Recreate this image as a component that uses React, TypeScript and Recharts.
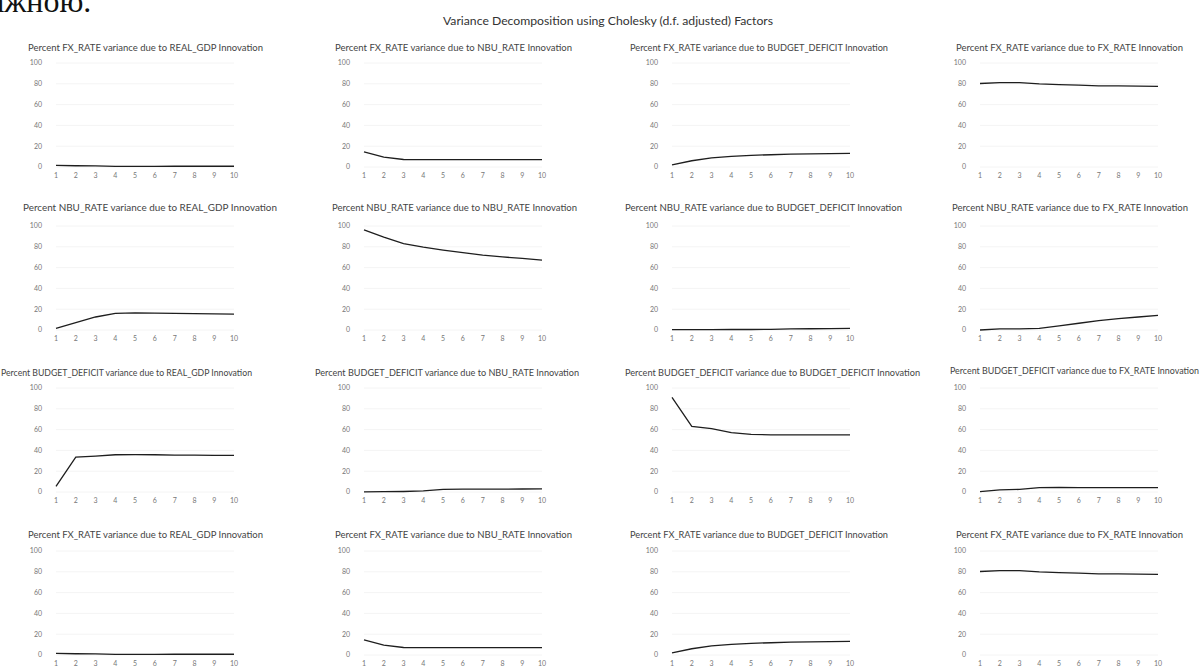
import React from 'react';
import { LineChart, Line, XAxis, YAxis, CartesianGrid } from 'recharts';

// ---------- data ----------
const periods = [1, 2, 3, 4, 5, 6, 7, 8, 9, 10];
const yTicks = [0, 20, 40, 60, 80, 100];

const responseVars = ['FX_RATE', 'NBU_RATE', 'BUDGET_DEFICIT', 'FX_RATE'];
const shockVars = ['REAL_GDP', 'NBU_RATE', 'BUDGET_DEFICIT', 'FX_RATE'];

const fxDueGdp = [1.5, 1.2, 1.0, 0.6, 0.6, 0.6, 0.7, 0.7, 0.7, 0.7];
const fxDueNbu = [14.5, 9.5, 7.2, 7.0, 7.0, 7.0, 7.0, 7.0, 7.0, 7.0];
const fxDueBudget = [2.0, 6.0, 8.8, 10.3, 11.2, 11.8, 12.3, 12.6, 12.9, 13.1];
const fxDueFx = [80.3, 81.2, 81.2, 80.0, 79.3, 78.8, 78.0, 78.0, 77.8, 77.5];

const nbuDueGdp = [1.5, 7.0, 12.5, 16.0, 16.5, 16.3, 16.0, 15.8, 15.5, 15.3];
const nbuDueNbu = [96.3, 89.4, 83.0, 79.7, 76.9, 74.4, 71.9, 70.3, 68.8, 67.2];
const nbuDueBudget = [0.3, 0.4, 0.4, 0.5, 0.5, 0.6, 1.0, 1.2, 1.4, 1.6];
const nbuDueFx = [0.0, 1.0, 1.0, 1.5, 4.0, 6.5, 9.0, 11.0, 12.5, 14.0];

const budDueGdp = [5.5, 33.5, 34.5, 35.8, 36.0, 35.8, 35.5, 35.4, 35.3, 35.2];
const budDueNbu = [0.2, 0.3, 0.5, 1.0, 2.5, 2.7, 2.8, 2.8, 2.9, 3.0];
const budDueBudget = [91.0, 63.0, 61.0, 57.0, 55.5, 55.0, 55.0, 55.0, 55.0, 55.0];
const budDueFx = [0.3, 2.0, 2.5, 4.2, 4.5, 4.3, 4.2, 4.2, 4.2, 4.2];

const seriesGrid = [
  [fxDueGdp, fxDueNbu, fxDueBudget, fxDueFx],
  [nbuDueGdp, nbuDueNbu, nbuDueBudget, nbuDueFx],
  [budDueGdp, budDueNbu, budDueBudget, budDueFx],
  [fxDueGdp, fxDueNbu, fxDueBudget, fxDueFx],
];

const mainTitle = 'Variance Decomposition using Cholesky (d.f. adjusted) Factors';
const topFragment = 'ажною.';

// ---------- layout ----------
const plotLefts = [56, 364, 672, 980];
const plotTops = [63, 226, 388, 551];
const PLOT_W = 178;
const PLOT_H = 104;
const Y_AXIS_W = 37;
const M_TOP = 5;
const M_RIGHT = 6;
const X_AXIS_H = 20;

// [x, width, yCenter] per panel title
const titleBoxes = [
  [[28, 235, 47], [335, 237, 47], [630, 258, 47], [956, 227, 47]],
  [[23, 254, 207], [332, 245, 207], [625, 277, 207], [952, 236, 207]],
  [[1, 251, 372], [315, 264, 372], [625, 295, 372], [950, 249, 370]],
  [[28, 235, 534], [335, 237, 534], [630, 258, 534], [956, 227, 534]],
];

const FONT = 'Lato, "Open Sans", sans-serif';

function Panel({ values, left, top }: { values: number[]; left: number; top: number }) {
  const data = periods.map((p, i) => ({ period: p, value: values[i] }));
  const w = Y_AXIS_W + PLOT_W + M_RIGHT;
  const h = M_TOP + PLOT_H + X_AXIS_H;
  return (
    <div style={{ position: 'absolute', left: left - Y_AXIS_W, top: top - M_TOP, width: w, height: h }}>
      <LineChart width={w} height={h} data={data} margin={{ top: M_TOP, right: M_RIGHT, bottom: 0, left: 0 }}>
        <CartesianGrid vertical={false} stroke="#f4f4f4" />
        <XAxis
          dataKey="period"
          type="number"
          domain={[1, 10]}
          ticks={periods}
          interval={0}
          height={X_AXIS_H}
          axisLine={false}
          tickLine={false}
          tickSize={0}
          tickMargin={6}
          tick={{ fontSize: 7, fill: '#777', fontFamily: FONT }}
        />
        <YAxis
          type="number"
          domain={[0, 100]}
          ticks={yTicks}
          interval={0}
          width={Y_AXIS_W}
          axisLine={false}
          tickLine={false}
          tickSize={0}
          tickMargin={14}
          tick={{ fontSize: 7, fill: '#777', fontFamily: FONT }}
        />
        <Line
          type="linear"
          dataKey="value"
          stroke="#1e1e1e"
          strokeWidth={1.3}
          dot={false}
          isAnimationActive={false}
        />
      </LineChart>
    </div>
  );
}

export default function App() {
  return (
    <div
      style={{
        position: 'absolute',
        left: 0,
        top: 0,
        width: 1201,
        height: 671,
        overflow: 'hidden',
        background: '#ffffff',
      }}
    >
      {seriesGrid.map((row, r) =>
        row.map((vals, c) => (
          <Panel key={`${r}-${c}`} values={vals} left={plotLefts[c]} top={plotTops[r]} />
        ))
      )}
      <svg
        width={1201}
        height={671}
        style={{ position: 'absolute', left: 0, top: 0, pointerEvents: 'none' }}
      >
        <text
          x={-10}
          y={12}
          fontSize={32}
          fontFamily='"Liberation Serif", "Times New Roman", serif'
          fill="#111"
        >
          {topFragment}
        </text>
        <text
          x={443}
          y={21}
          fontSize={10.5}
          fontFamily={FONT}
          fill="#333"
          dominantBaseline="central"
          textLength={330}
          lengthAdjust="spacingAndGlyphs"
        >
          {mainTitle}
        </text>
        {titleBoxes.map((row, r) =>
          row.map(([x, w, y], c) => (
            <text
              key={`t-${r}-${c}`}
              x={x}
              y={y}
              fontSize={9}
              fontFamily={FONT}
              fill="#444"
              dominantBaseline="central"
              textLength={w}
              lengthAdjust="spacingAndGlyphs"
            >
              {`Percent ${responseVars[r]} variance due to ${shockVars[c]} Innovation`}
            </text>
          ))
        )}
      </svg>
    </div>
  );
}
